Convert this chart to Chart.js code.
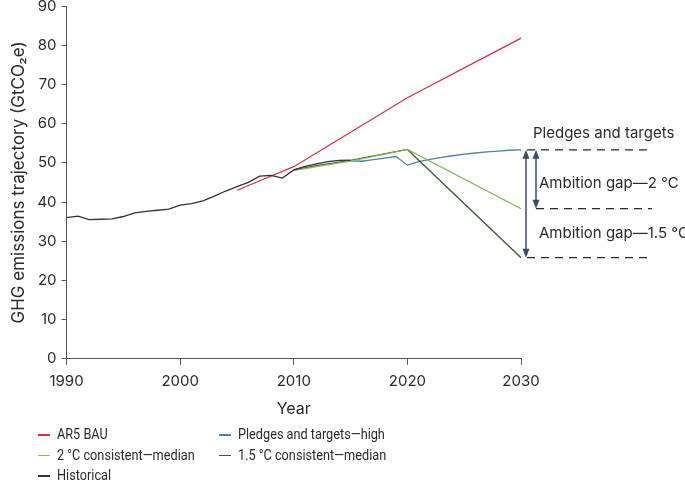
<!DOCTYPE html>
<html>
<head>
<meta charset="utf-8">
<script src="https://cdn.jsdelivr.net/npm/chart.js@4/dist/chart.umd.min.js"></script>
<style>
  html,body{margin:0;padding:0;background:#fff;overflow:hidden;}
  #wrap{position:relative;width:685px;height:482px;overflow:hidden;}
  #c{position:absolute;left:0;top:-8px;}
  #legend{position:absolute;left:0;top:424px;width:685px;font-family:"Roboto","Liberation Sans",sans-serif;font-size:15.5px;color:#2a2a2a;}
  .item{position:absolute;height:20px;line-height:20px;white-space:nowrap;}
  .sw{position:absolute;top:10px;width:12px;height:1.5px;}
  .tx{position:absolute;left:19px;top:0;transform:scaleX(0.82);transform-origin:0 50%;}
</style>
</head>
<body>
<div id="wrap">
<canvas id="c" width="685" height="490"></canvas>
<div id="legend"></div>
</div>
<script>
// ---- data ----
const histYears = [1990,1991,1992,1993,1994,1995,1996,1997,1998,1999,2000,2001,2002,2003,2004,2005,2006,2007,2008,2009,2010,2011,2012,2013,2014,2015];
const histValues = [36.0,36.4,35.5,35.6,35.7,36.3,37.2,37.6,37.9,38.2,39.2,39.6,40.3,41.5,42.8,43.9,45.0,46.6,46.8,46.1,48.2,49.1,49.7,50.3,50.6,50.7];

const bauYears = [2005,2010,2020,2030];
const bauValues = [43.0,49.0,66.6,81.8];

const pledgeYears = [2015,2016,2017,2018,2019,2020,2021,2022,2023,2024,2025,2026,2027,2028,2029,2030];
const pledgeValues = [50.5,50.4,50.8,51.2,51.6,49.4,50.3,50.9,51.4,51.8,52.2,52.5,52.8,53.0,53.2,53.3];

const twoCYears = [2010,2012,2015,2020,2030];
const twoCValues = [48.0,49.0,50.4,53.4,38.3];

const oneFiveYears = [2010,2012,2015,2020,2030];
const oneFiveValues = [48.2,49.3,50.6,53.4,25.8];

const yTicks = [0,10,20,30,40,50,60,70,80,90];
const xTicks = [1990,2000,2010,2020,2030];

const seriesNames = ["AR5 BAU","Pledges and targets\u2014high","2 \u00b0C consistent\u2014median","1.5 \u00b0C consistent\u2014median","Historical"];
const annoTexts = ["Pledges and targets","Ambition gap\u20142 \u00b0C","Ambition gap\u20141.5 \u00b0C"];

const colors = {bau:"#d0364a", pledge:"#4f7fae", twoC:"#86b95e", oneFive:"#3f5a36", hist:"#333333"};

function pts(xs, ys){ return xs.map((x,i)=>({x:x,y:ys[i]})); }

const FONT = "Inter, 'Noto Sans', sans-serif";
const axisColor = "#555";

const annoPlugin = {
  id:"anno",
  afterDatasetsDraw(chart){
    const ctx = chart.ctx, ys = chart.scales.y, xs = chart.scales.x;
    const xEnd = xs.getPixelForValue(2030);
    const yP = ys.getPixelForValue(pledgeValues[pledgeValues.length-1]);
    const y2 = ys.getPixelForValue(twoCValues[twoCValues.length-1]);
    const y15 = ys.getPixelForValue(oneFiveValues[oneFiveValues.length-1]);
    const dashEnd = xEnd + 131;
    ctx.save();
    ctx.strokeStyle = "#2a2a2a"; ctx.lineWidth = 1.2; ctx.setLineDash([8,6]);
    [[xEnd+6,yP],[xEnd+15,y2],[xEnd+6,y15]].forEach(([x0,y])=>{
      ctx.beginPath(); ctx.moveTo(x0,y); ctx.lineTo(dashEnd,y); ctx.stroke();
    });
    ctx.setLineDash([]);
    function arrow(x, ya, yb){
      ctx.strokeStyle = "#3e4b60"; ctx.fillStyle = "#3e4b60"; ctx.lineWidth = 1.5;
      ctx.beginPath(); ctx.moveTo(x, ya+3); ctx.lineTo(x, yb-3); ctx.stroke();
      ctx.beginPath(); ctx.moveTo(x, ya); ctx.lineTo(x-3.5, ya+9); ctx.lineTo(x+3.5, ya+9); ctx.closePath(); ctx.fill();
      ctx.beginPath(); ctx.moveTo(x, yb); ctx.lineTo(x-3.5, yb-9); ctx.lineTo(x+3.5, yb-9); ctx.closePath(); ctx.fill();
    }
    arrow(xEnd+5, yP, y15);
    arrow(xEnd+15, yP, y2);
    ctx.fillStyle = "#2a2a2a"; ctx.font = "15px " + FONT; ctx.textBaseline = "middle"; ctx.textAlign = "left";
    ctx.fillText(annoTexts[0], xEnd+12, yP-16);
    ctx.fillText(annoTexts[1], xEnd+18, (yP+y2)/2 + 4);
    ctx.fillText(annoTexts[2], xEnd+18, y2 + 25);
    ctx.restore();
  }
};

const ds = (label, data, color) => ({label, data, borderColor:color, backgroundColor:color, borderWidth:1.3, pointRadius:0, tension:0, fill:false});

new Chart(document.getElementById("c"), {
  type:"line",
  data:{datasets:[
    ds(seriesNames[4], pts(histYears,histValues), colors.hist),
    ds(seriesNames[0], pts(bauYears,bauValues), colors.bau),
    ds(seriesNames[2], pts(twoCYears,twoCValues), colors.twoC),
    ds(seriesNames[3], pts(oneFiveYears,oneFiveValues), colors.oneFive),
    ds(seriesNames[1], pts(pledgeYears,pledgeValues), colors.pledge)
  ]},
  options:{
    responsive:false, animation:false,
    layout:{padding:{left:5,top:0,right:164,bottom:59}},
    plugins:{legend:{display:false}, tooltip:{enabled:false}},
    scales:{
      x:{type:"linear", min:1990, max:2030,
        afterBuildTicks(a){ a.ticks = xTicks.map(v=>({value:v})); },
        ticks:{font:{family:FONT,size:15}, color:"#2a2a2a", padding:8, maxRotation:0, callback:v=>String(v)},
        grid:{display:true, drawOnChartArea:false, drawTicks:true, tickLength:6, color:axisColor},
        border:{display:true,color:axisColor,width:1},
        title:{display:true,text:"Year",font:{family:FONT,size:16},color:"#2a2a2a",padding:{top:1}}
      },
      y:{min:0,max:90,
        afterBuildTicks(a){ a.ticks = yTicks.map(v=>({value:v})); },
        ticks:{font:{family:FONT,size:15}, color:"#2a2a2a", padding:5},
        grid:{display:true, drawOnChartArea:false, drawTicks:true, tickLength:5, color:axisColor},
        border:{display:true,color:axisColor,width:1},
        title:{display:true,text:"GHG emissions trajectory (GtCO\u2082e)",font:{family:FONT,size:17},color:"#2a2a2a",padding:{bottom:3}}
      }
    }
  },
  plugins:[annoPlugin]
});

const legendItems = [
  [seriesNames[0], colors.bau, 0, 0],
  [seriesNames[1], colors.pledge, 1, 0],
  [seriesNames[2], colors.twoC, 0, 1],
  [seriesNames[3], colors.oneFive, 1, 1],
  [seriesNames[4], colors.hist, 0, 2]
];
const lg = document.getElementById("legend");
legendItems.forEach(([t,c,col,row])=>{
  const d = document.createElement("div"); d.className="item";
  d.style.left = (col? 219:38)+"px"; d.style.top = (row*20.5)+"px";
  d.innerHTML = '<span class="sw" style="background:'+c+'"></span><span class="tx"></span>';
  d.querySelector(".tx").textContent = t;
  lg.appendChild(d);
});
</script>
</body>
</html>
